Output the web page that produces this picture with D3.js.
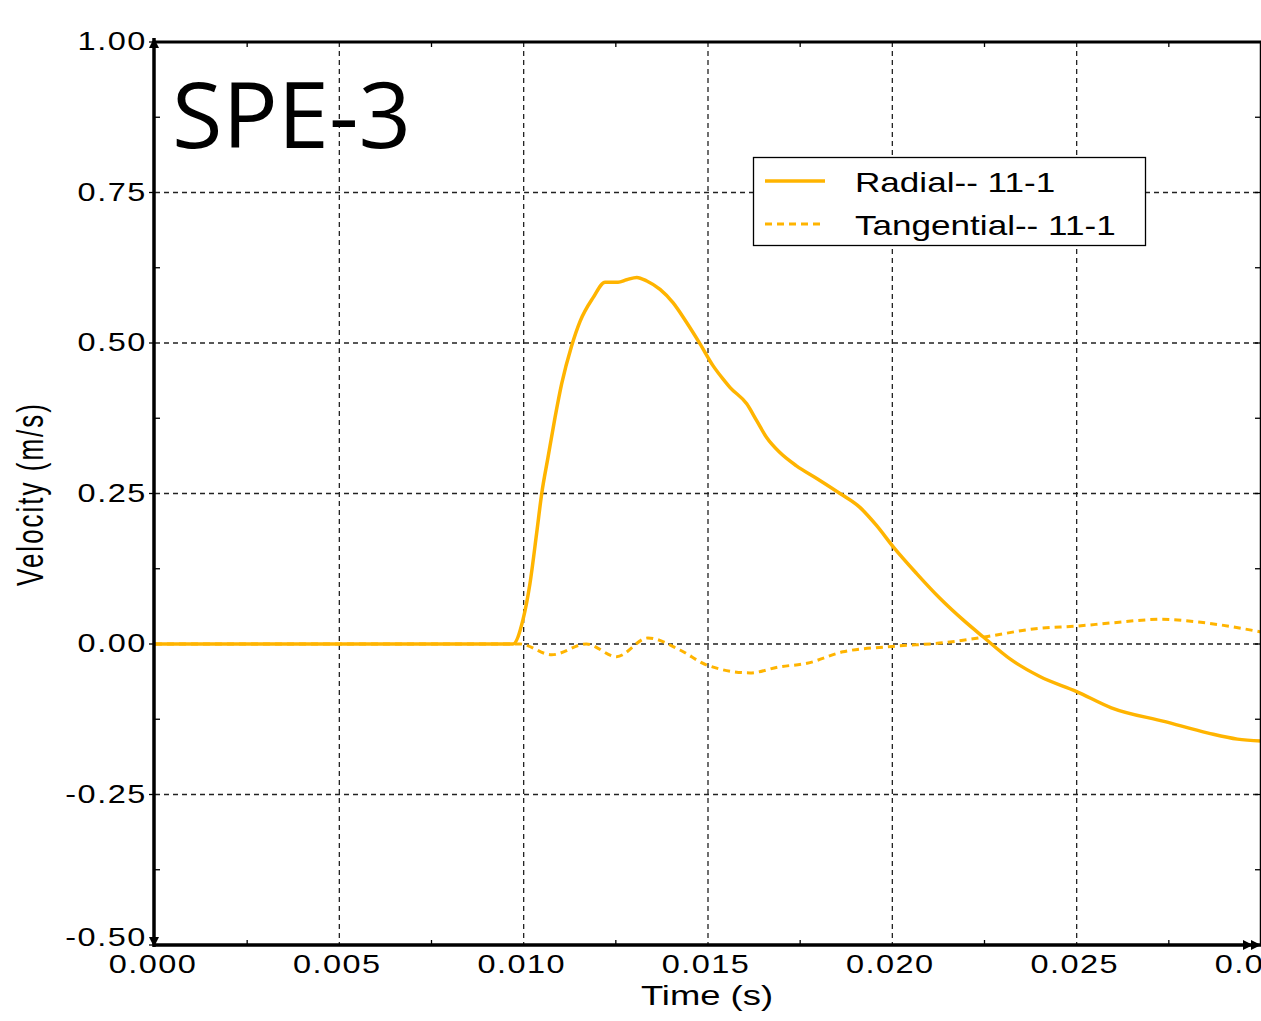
<!DOCTYPE html>
<html lang="en">
  <head>
    <meta charset="UTF-8" />
    <title>SPE-3 velocity</title>
    <style>
      body { margin: 0; background: #fff; }
      text { font-family: "Liberation Sans", Arial, sans-serif; fill: #000; }
    </style>
    <script src="https://d3js.org/d3.v7.min.js"></script>
  </head>
  <body>
    <svg width="1261" height="1021"></svg>
    <script>
      // time (s) and velocity (m/s)
      var radialT = [0, 0.00971, 0.00998, 0.01017, 0.01035, 0.01049, 0.01066, 0.01085, 0.01103, 0.0113,
        0.01153, 0.01188, 0.01221, 0.01256, 0.01279, 0.01307, 0.01334, 0.0137, 0.01405, 0.01442,
        0.01478, 0.01514, 0.01541, 0.0156, 0.01605, 0.01632, 0.01659, 0.01695, 0.0174, 0.01795,
        0.01858, 0.01912, 0.01957, 0.02003, 0.02066, 0.02129, 0.02192, 0.02246, 0.02322, 0.024,
        0.025, 0.02594, 0.0274, 0.02857, 0.02936, 0.03];
      var radialV = [0, 0, 0.04, 0.10, 0.183, 0.25, 0.31, 0.376, 0.432, 0.495,
        0.536, 0.575, 0.601, 0.601, 0.605, 0.609, 0.603, 0.589, 0.567, 0.534,
        0.499, 0.462, 0.44, 0.426, 0.399, 0.371, 0.343, 0.318, 0.296, 0.275,
        0.25, 0.227, 0.197, 0.161, 0.117, 0.076, 0.040, 0.012, -0.026, -0.054,
        -0.079, -0.106, -0.129, -0.148, -0.158, -0.161];
      var tangT = [0, 0.0099, 0.01076, 0.0117, 0.01252, 0.01337, 0.01424, 0.01497, 0.01614, 0.01693,
        0.01769, 0.01866, 0.02, 0.02138, 0.02254, 0.02382, 0.02506, 0.02594, 0.0273, 0.02837, 0.03];
      var tangV = [0, 0, -0.018, 0.0, -0.021, 0.010, -0.01, -0.035, -0.048, -0.038,
        -0.032, -0.013, -0.004, 0.002, 0.012, 0.025, 0.030, 0.035, 0.041, 0.036, 0.020];
      var xTicks = [0, 0.005, 0.01, 0.015, 0.02, 0.025, 0.03];
      var yTicks = [-0.5, -0.25, 0, 0.25, 0.5, 0.75, 1.0];
      var seriesNames = ["Radial-- 11-1", "Tangential-- 11-1"];

      var svg = d3.select("svg");
      var color = "#ffb400";
      var pL = 155, pR = 1261, pT = 42, pB = 945;
      var stretch = 1.3; // the lettering in the original is wide

      var x = d3.scaleLinear().domain([0, 0.03]).range([pL, pR]);
      var y = d3.scaleLinear().domain([-0.5, 1]).range([pB, pT]);

      svg.append("defs").append("clipPath").attr("id", "clip")
        .append("rect").attr("x", pL).attr("y", pT)
        .attr("width", pR - pL).attr("height", pB - pT);

      // grid
      var grid = svg.append("g").attr("stroke", "#222").attr("stroke-width", 1.3)
        .attr("stroke-dasharray", "5,4");
      grid.selectAll(".gx").data(xTicks.slice(1, -1)).join("line")
        .attr("x1", d => x(d)).attr("x2", d => x(d)).attr("y1", pT).attr("y2", pB);
      grid.selectAll(".gy").data(yTicks.slice(1, -1)).join("line")
        .attr("y1", d => y(d)).attr("y2", d => y(d)).attr("x1", pL).attr("x2", pR);

      // minor ticks
      var minorX = d3.range(0.0025, 0.03, 0.005);
      var minorY = d3.range(-0.375, 1, 0.25);
      var ticks = svg.append("g").attr("stroke", "#000").attr("stroke-width", 1.3);
      ticks.selectAll(".mxb").data(minorX).join("line")
        .attr("x1", d => x(d)).attr("x2", d => x(d)).attr("y1", pB).attr("y2", pB - 5);
      ticks.selectAll(".mxt").data(minorX).join("line")
        .attr("x1", d => x(d)).attr("x2", d => x(d)).attr("y1", pT).attr("y2", pT + 5);
      ticks.selectAll(".myl").data(minorY).join("line")
        .attr("y1", d => y(d)).attr("y2", d => y(d)).attr("x1", pL).attr("x2", pL + 5);
      ticks.selectAll(".myr").data(minorY.concat(yTicks)).join("line")
        .attr("y1", d => y(d)).attr("y2", d => y(d)).attr("x1", pR).attr("x2", pR - 6);
      ticks.selectAll(".mjl").data(yTicks).join("line")
        .attr("y1", d => y(d)).attr("y2", d => y(d)).attr("x1", pL - 6).attr("x2", pL);

      // series
      var line = d3.line().curve(d3.curveMonotoneX).x(d => x(d[0])).y(d => y(d[1]));
      var plot = svg.append("g").attr("clip-path", "url(#clip)");
      plot.append("path").attr("d", line(d3.zip(tangT, tangV)))
        .attr("fill", "none").attr("stroke", color).attr("stroke-width", 3)
        .attr("stroke-dasharray", "7,5");
      plot.append("path").attr("d", line(d3.zip(radialT, radialV)))
        .attr("fill", "none").attr("stroke", color).attr("stroke-width", 3.5);

      // frame
      svg.append("line").attr("x1", pR - 0.5).attr("x2", pR - 0.5).attr("y1", pT).attr("y2", pB)
        .attr("stroke", "#000").attr("stroke-width", 1.5);
      svg.append("line").attr("x1", pL).attr("x2", pR).attr("y1", pT).attr("y2", pT)
        .attr("stroke", "#000").attr("stroke-width", 3);
      svg.append("line").attr("x1", pL).attr("x2", pR).attr("y1", pB).attr("y2", pB)
        .attr("stroke", "#000").attr("stroke-width", 3.5);
      svg.append("line").attr("x1", pL - 1).attr("x2", pL - 1).attr("y1", pT - 4).attr("y2", pB + 2)
        .attr("stroke", "#000").attr("stroke-width", 3.5);

      // arrow heads
      var arrows = svg.append("g").attr("fill", "#000");
      arrows.append("path").attr("d", d3.line()([[pL - 6, pT + 6], [pL - 1, pT - 4], [pL + 4, pT + 6]]));
      arrows.append("path").attr("d", d3.line()([[pL - 6, pB - 8], [pL - 1, pB + 2], [pL + 4, pB - 8]]));
      arrows.append("path").attr("d", d3.line()([[pR - 18, pB - 5], [pR - 8, pB], [pR - 18, pB + 5]]));
      arrows.append("path").attr("d", d3.line()([[pR - 10, pB - 5], [pR, pB], [pR - 10, pB + 5]]));

      // tick labels
      var fmtY = d => d3.format(".2f")(d).replace("\u2212", "-");
      svg.append("g").selectAll("text").data(yTicks).join("text")
        .attr("transform", d => "translate(" + (pL - 8) + "," + (y(d) + (d === -0.5 ? 1 : 8)) + ") scale(" + stretch + ",1)")
        .attr("text-anchor", "end").attr("font-size", 25).attr("letter-spacing", 1.2)
        .text(fmtY);
      svg.append("g").selectAll("text").data(xTicks).join("text")
        .attr("transform", d => "translate(" + (x(d) - 2) + "," + (pB + 28) + ") scale(" + stretch + ",1)")
        .attr("text-anchor", "middle").attr("font-size", 25).attr("letter-spacing", 1.1)
        .text(d => d3.format(".3f")(d));

      // axis titles
      svg.append("text").attr("transform", "translate(707,1005) scale(" + stretch + ",1)")
        .attr("text-anchor", "middle").attr("font-size", 28).text("Time (s)");
      svg.append("text").attr("transform", "translate(43,494) scale(1.4,1) rotate(-90)")
        .attr("text-anchor", "middle")
        .attr("font-size", 26).attr("letter-spacing", 2).text("Velocity (m/s)");

      // big label
      svg.append("text").attr("x", 172).attr("y", 148)
        .style("font-family", "'Open Sans', 'Noto Sans', sans-serif")
        .attr("font-size", 92).text("SPE-3");

      // legend
      var lg = svg.append("g").attr("transform", "translate(753,157)");
      lg.append("rect").attr("x", 0.5).attr("y", 0.5).attr("width", 392).attr("height", 88)
        .attr("fill", "#fff").attr("stroke", "#000").attr("stroke-width", 1.3);
      var items = lg.selectAll(".item").data(seriesNames).join("g")
        .attr("transform", (d, i) => "translate(0," + (24 + i * 43) + ")");
      items.append("line").attr("x1", 12).attr("x2", 72).attr("y1", 0).attr("y2", 0)
        .attr("stroke", color).attr("stroke-width", (d, i) => i ? 3 : 3.5)
        .attr("stroke-dasharray", (d, i) => i ? "7,5" : null);
      items.append("text").attr("transform", "translate(102,11) scale(" + stretch + ",1)")
        .attr("font-size", 27).text(d => d);
    </script>
  </body>
</html>
